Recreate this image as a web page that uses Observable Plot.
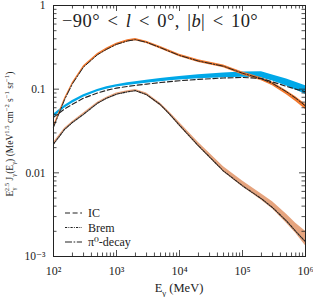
<!DOCTYPE html>
<html><head><meta charset="utf-8">
<script src="https://cdn.jsdelivr.net/npm/d3@7"></script>
<script src="https://cdn.jsdelivr.net/npm/@observablehq/plot@0.6"></script>
<style>body{margin:0;background:#fff}svg{display:block}svg text{font-family:"Liberation Serif","DejaVu Serif",serif}</style>
</head><body><div id="chart"></div>
<script>
// Photon energy grid (MeV)
const energy = [100,150,200,300,500,700,1000,1500,2000,3000,5000,7000,1e4,2e4,5e4,1e5,2e5,3e5,5e5,7e5,1e6];
// Inverse Compton (dashed) and its uncertainty band (blue)
const icLine = [0.046,0.058,0.066,0.078,0.090,0.097,0.103,0.108,0.111,0.115,0.120,0.123,0.126,0.131,0.136,0.138,0.134,0.122,0.108,0.100,0.093];
const icLo   = [0.046,0.059,0.068,0.080,0.093,0.100,0.106,0.111,0.114,0.118,0.123,0.126,0.129,0.133,0.137,0.139,0.136,0.125,0.109,0.098,0.087];
const icHi   = [0.050,0.064,0.073,0.086,0.099,0.107,0.113,0.119,0.123,0.128,0.134,0.138,0.142,0.149,0.156,0.160,0.161,0.148,0.132,0.121,0.110];
// Bremsstrahlung (dotted) and band
const bremLine = [0.022,0.033,0.040,0.050,0.068,0.078,0.087,0.093,0.096,0.086,0.065,0.050,0.037,0.021,0.0105,0.0070,0.0049,0.00384,0.00266,0.0020,0.0015];
const bremLo   = [0.021,0.032,0.039,0.049,0.066,0.076,0.085,0.091,0.094,0.084,0.063,0.049,0.036,0.0205,0.0102,0.0068,0.0047,0.0037,0.0025,0.0019,0.00134];
const bremHi   = [0.023,0.034,0.041,0.052,0.070,0.080,0.090,0.096,0.099,0.090,0.068,0.053,0.040,0.0230,0.0118,0.0080,0.0056,0.0045,0.0032,0.0025,0.0020];
// pi0-decay (dash-dot) and band
const pionLine = [0.035,0.075,0.116,0.184,0.258,0.300,0.343,0.377,0.390,0.363,0.313,0.282,0.253,0.217,0.188,0.155,0.133,0.117,0.093,0.078,0.063];
const pionLo   = [0.0335,0.072,0.112,0.178,0.250,0.290,0.332,0.365,0.378,0.351,0.302,0.272,0.244,0.209,0.180,0.148,0.126,0.110,0.086,0.071,0.057];
const pionHi   = [0.0365,0.078,0.120,0.190,0.266,0.310,0.354,0.389,0.402,0.375,0.324,0.292,0.262,0.225,0.195,0.160,0.137,0.121,0.096,0.081,0.066];

const xTicks = [1e2,1e3,1e4,1e5,1e6];
const xTickLabels = ["10²","10³","10⁴","10⁵","10⁶"];
const yTicks = [1e-3,1e-2,1e-1,1];
const yTickLabels = ["10⁻³","0.01","0.1","1"];
const legendNames = ["IC","Brem","π⁰-decay"];

const W = 313, H = 297, mL = 53, mR = 8, mT = 5, mB = 41;
const innerW = W - mL - mR, innerH = H - mT - mB;
const FONT = "Liberation Serif, DejaVu Serif, serif";

const rows = energy.map((E, i) => ({
  E, ic: icLine[i], icLo: icLo[i], icHi: icHi[i],
  brem: bremLine[i], bremLo: bremLo[i], bremHi: bremHi[i],
  pion: pionLine[i], pionLo: pionLo[i], pionHi: pionHi[i]
}));

const xMinor = [], yMinor = [];
for (let d = 2; d < 6; d++) for (let k = 2; k <= 9; k++) xMinor.push(k * 10 ** d);
for (let d = -3; d < 0; d++) for (let k = 2; k <= 9; k++) yMinor.push(k * 10 ** d);

const BLUE = "#00a8e8", BREMC = "#e6a47e", PIONC = "#f27a30";
const dashIC = "5,2.6", dashBrem = "2.2,1.2,0.9,1.2", dashPion = "7,1.6,1.6,1.6";

const chart = Plot.plot({
  width: W, height: H,
  marginLeft: mL, marginRight: mR, marginTop: mT, marginBottom: mB,
  style: {fontFamily: FONT, fontSize: "11px", background: "#fff", color: "#222"},
  x: {type: "log", domain: [100, 1e6]},
  y: {type: "log", domain: [1e-3, 1]},
  marks: [
    Plot.areaY(rows, {x: "E", y1: "icLo", y2: "icHi", fill: BLUE}),
    Plot.areaY(rows, {x: "E", y1: "bremLo", y2: "bremHi", fill: BREMC}),
    Plot.areaY(rows, {x: "E", y1: "pionLo", y2: "pionHi", fill: PIONC}),
    Plot.line(rows, {x: "E", y: "ic", stroke: "#222", strokeWidth: 1.15, strokeDasharray: dashIC}),
    Plot.line(rows, {x: "E", y: "brem", stroke: "#222", strokeWidth: 1.1, strokeDasharray: dashBrem}),
    Plot.line(rows, {x: "E", y: "pion", stroke: "#222", strokeWidth: 1.0, strokeDasharray: dashPion}),
    Plot.frame({stroke: "#222", strokeWidth: 1}),
    // inward ticks on all four sides
    Plot.ruleX(xTicks, {x: d => d, insetTop: innerH - 6, stroke: "#222", strokeWidth: 0.8}),
    Plot.ruleX(xTicks, {x: d => d, insetBottom: innerH - 6, stroke: "#222", strokeWidth: 0.8}),
    Plot.ruleX(xMinor, {x: d => d, insetTop: innerH - 3.5, stroke: "#222", strokeWidth: 0.8}),
    Plot.ruleX(xMinor, {x: d => d, insetBottom: innerH - 3.5, stroke: "#222", strokeWidth: 0.8}),
    Plot.ruleY(yTicks, {y: d => d, insetRight: innerW - 6, stroke: "#222", strokeWidth: 0.8}),
    Plot.ruleY(yTicks, {y: d => d, insetLeft: innerW - 6, stroke: "#222", strokeWidth: 0.8}),
    Plot.ruleY(yMinor, {y: d => d, insetRight: innerW - 3.5, stroke: "#222", strokeWidth: 0.8}),
    Plot.ruleY(yMinor, {y: d => d, insetLeft: innerW - 3.5, stroke: "#222", strokeWidth: 0.8}),
    Plot.axisX(xTicks, {tickSize: 0, tickPadding: 10, label: null, fontSize: 12,
      tickFormat: d => xTickLabels[xTicks.indexOf(d)]}),
    Plot.axisY(yTicks, {tickSize: 0, tickPadding: 8, label: null, fontSize: 11.5,
      tickFormat: d => yTickLabels[yTicks.indexOf(d)]})
  ]
});
document.getElementById("chart").appendChild(chart);

// rich text helper (sub/superscripts, italics)
function rich(sel, segs, size) {
  let off = 0;
  for (const [t, kind, dx] of segs) {
    const ts = sel.append("tspan").text(t);
    let target = 0, fs = size;
    if (kind === "sub") { target = 0.28 * size; fs = 0.7 * size; }
    else if (kind === "sup") { target = -0.4 * size; fs = 0.7 * size; }
    if (kind === "it") ts.attr("font-style", "italic");
    ts.attr("font-size", fs).attr("dy", target - off);
    if (dx) ts.attr("dx", dx);
    off = target;
  }
}
const svg = d3.select(chart);
const g = svg.append("g").style("font-family", FONT).attr("fill", "#222")
  .attr("text-anchor", "start").style("white-space", "pre");

// title
rich(g.append("text").attr("x", 62).attr("y", 27).style("word-spacing", "2.5px").style("letter-spacing", "0.4px"),
  [["−90° < ", ""], ["l", "it"], [" < 0°, |", ""], ["b", "it"], ["| < 10°", ""]], 18.5);

// x label
rich(g.append("text").attr("x", mL + innerW / 2).attr("y", 292).attr("text-anchor", "middle"),
  [["E", ""], ["γ", "sub"], [" (MeV)", ""]], 12.5);

// y label
rich(g.append("text").attr("transform", `translate(13,134) rotate(-90)`).attr("text-anchor", "middle"),
  [["E", ""], ["γ", "sub"], ["2.5", "sup", -3.5], [" J", ""], ["γ", "sub"], ["(E", ""], ["γ", "sub"], [") (MeV", ""],
   ["1.5", "sup"], [" cm", ""], ["−2", "sup"], [" s", ""], ["−1", "sup"], [" sr", ""], ["−1", "sup"], [")", ""]], 9.5);

// legend
const dashes = [dashIC, dashBrem, dashPion];
legendNames.forEach((name, i) => {
  const y = 213 + i * 14.5;
  g.append("line").attr("x1", 65).attr("x2", 82).attr("y1", y).attr("y2", y)
    .attr("stroke", "#222").attr("stroke-width", 1.2).attr("stroke-dasharray", dashes[i]);
  g.append("text").attr("x", 88).attr("y", y + 4).attr("font-size", 12).text(name);
});
</script></body></html>
